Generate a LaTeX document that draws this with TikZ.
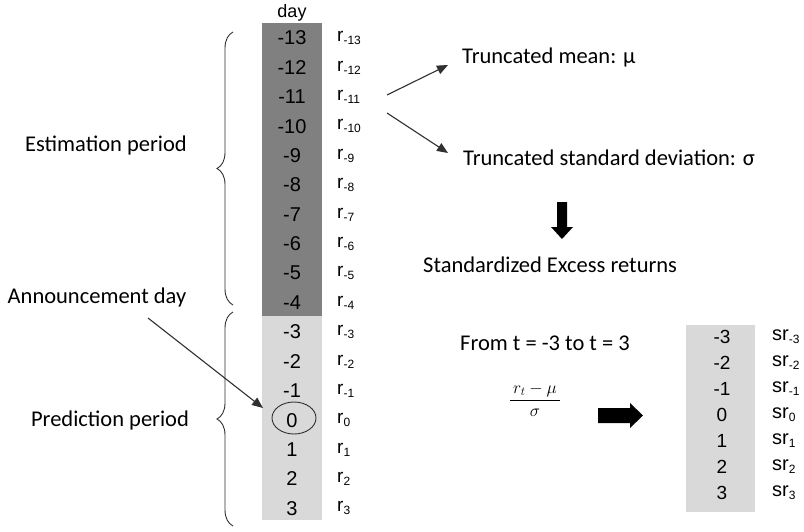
\documentclass[tikz,border=0pt]{standalone}
\usepackage{fontspec}
\setmainfont{Carlito}
\newfontfamily\arialf{Liberation Sans}
\usetikzlibrary{arrows.meta,shapes.geometric,decorations.pathreplacing}
\definecolor{darkcol}{HTML}{808080}
\definecolor{lightcol}{HTML}{D9D9D9}
\definecolor{linecol}{HTML}{303030}
\tikzset{
  lbl/.style={font=\fontsize{22.5}{24}\selectfont, inner sep=0pt},
  num/.style={font=\arialf\fontsize{20}{22}\selectfont, inner sep=0pt},
  numr/.style={font=\arialf\fontsize{19}{21}\selectfont, inner sep=0pt},
  rlab/.style={font=\arialf\fontsize{19}{21}\selectfont, inner sep=0pt, anchor=west},
  thinarrow/.style={draw=linecol, line width=1.1pt, -{Triangle[length=11pt,width=9pt]}},
  bracestyle/.style={draw=linecol, line width=0.9pt, decorate, decoration={brace, amplitude=16pt}},
  thick arrow/.style={fill=black, draw=none}
}
\newcommand{\subtxt}[1]{\raisebox{-0.3ex}{\fontsize{12}{12}\selectfont #1}}
\begin{document}
\begin{tikzpicture}[x=1pt,y=-1pt]
\clip (0,0) rectangle (804,531);
\fill[white] (0,0) rectangle (804,531);
% left column
\fill[darkcol] (262,23) rectangle (322,316);
\fill[lightcol] (262,316) rectangle (322,520);
\node[num, font=\arialf\fontsize{18}{20}\selectfont] (day) at (292,13) {day};
\foreach \k in {0,...,16} {
  \pgfmathtruncatemacro\d{\k-13}
  \node[num] (d\k) at (292,{38+29.4*\k}) {\d};
  \node[rlab] (r\k) at (337,{38+29.4*\k}) {r\subtxt{\d}};
}
\node[draw=linecol, line width=0.9pt, ellipse, minimum width=44pt, minimum height=32pt, inner sep=0pt] (ring) at (294,418) {};
% braces
\coordinate (estbot) at (233,305);
\coordinate (esttop) at (233,32);
\coordinate (predbot) at (233,526);
\coordinate (predtop) at (233,312);
\draw[bracestyle] (estbot) -- (esttop);
\draw[bracestyle] (predbot) -- (predtop);
% left labels
\node[lbl] (est) at (106,145) {Estimation period};
\node[lbl] (ann) at (97,297) {Announcement day};
\node[lbl] (pred) at (110,420) {Prediction period};
\coordinate (annstart) at (148,318);
\coordinate (anntip) at (263,408);
\draw[thinarrow] (annstart) -- (anntip);
% right upper texts
\node[lbl, anchor=west] (mean) at (462,57) {Truncated mean: μ};
\node[lbl, anchor=west] (sd) at (463,158) {Truncated standard deviation: σ};
\node[lbl, anchor=west] (std) at (423,265) {Standardized Excess returns};
\coordinate (a1s) at (387,95);
\coordinate (a1e) at (448,65);
\coordinate (a2s) at (387,113);
\coordinate (a2e) at (448,153);
\draw[thinarrow] (a1s) -- (a1e);
\draw[thinarrow] (a2s) -- (a2e);
% down thick arrow
\fill[thick arrow] (557,202) -- (567,202) -- (567,227) -- (573,227) -- (562,239) -- (551,227) -- (557,227) -- cycle;
% formula part
\node[lbl, anchor=west] (from) at (460,343) {From t = -3 to t = 3};
\node[inner sep=0pt, font=\fontsize{18}{20}\selectfont] (frac) at (535,400) {$\displaystyle\frac{\,r_t-\mu\,}{\sigma}$};
\fill[thick arrow] (598,408) -- (630,408) -- (630,403) -- (643,415.5) -- (630,428) -- (630,423) -- (598,423) -- cycle;
% right column
\fill[lightcol] (686,325) rectangle (755,512);
\foreach \k in {0,...,6} {
  \pgfmathtruncatemacro\d{\k-3}
  \node[numr] (s\k) at (722,{337+26*\k}) {\d};
  \node[rlab, font=\arialf\fontsize{20}{22}\selectfont] (sr\k) at (772,{337+26*\k}) {sr\subtxt{\d}};
}
\end{tikzpicture}
\end{document}
